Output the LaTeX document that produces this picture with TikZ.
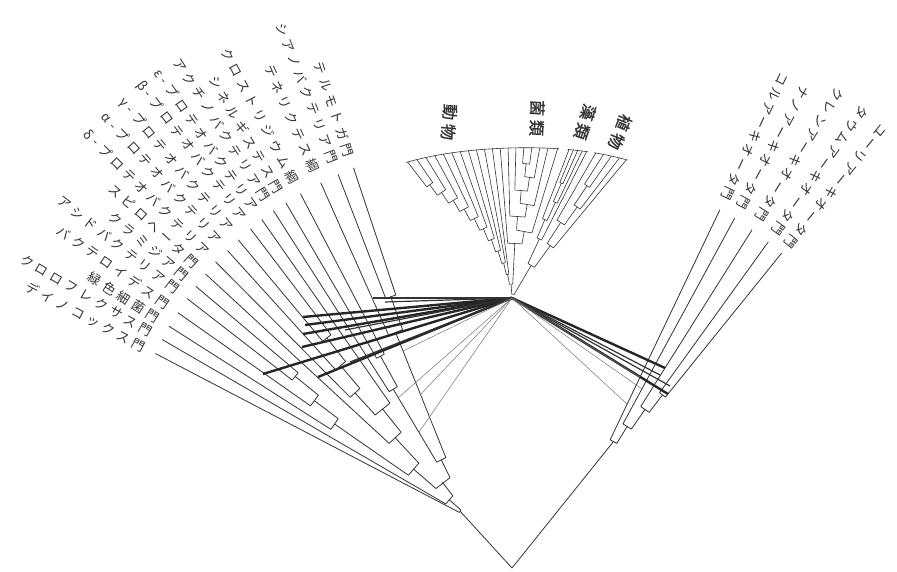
\documentclass[tikz,border=0pt]{standalone}
\usepackage{fontspec}
\newfontfamily\jp[LetterSpace=32]{Noto Sans CJK JP}
\newfontfamily\jpa[LetterSpace=22]{Noto Sans CJK JP}
\newfontfamily\jpb[LetterSpace=25,FakeBold=1.5]{Noto Sans CJK JP}
\newcommand\cla[5]{\draw (#1:#3) -- (#2:#3) (#1:#3) -- (#1:#4) (#2:#3) -- (#2:#5);}
\begin{document}
\begin{tikzpicture}[x=1pt,y=1pt,
  lab/.style={font=\jp\fontsize{13}{13}\selectfont, text=black!80, inner sep=0pt},
  alab/.style={font=\jpa\fontsize{13}{13}\selectfont, text=black!80, inner sep=0pt},
  elab/.style={font=\jpb\fontsize{16}{16}\selectfont, text=black!80, inner sep=0pt},
  lgtA/.style={draw=black!85, line width=2.4pt},
  lgtB/.style={draw=black!80, line width=1.2pt},
  lgtC/.style={draw=black!55, line width=0.5pt}]
\useasboundingbox (0,0) rectangle (897,572);
\coordinate (root) at (512,4);
\coordinate (C) at (470,54);
\coordinate (Ac) at (580,69);
\coordinate (E) at (512,274);

% bacteria
\begin{scope}[shift={(C)}, color=black!80, line width=0.8pt]
\cla{152.4}{138.8}{12}{355}{28}
\cla{149.9}{127.7}{28}{356}{45}
\cla{139.1}{116.3}{45}{75}{65}
\cla{145.25}{133.0}{75}{165}{110}
\cla{147.5}{143.0}{165}{357}{195}
\cla{144.9}{141.0}{195}{357}{225}
\cla{142.2}{139.8}{225}{358}{359}
\cla{137.3}{128.75}{110}{360}{140}
\cla{132.6}{124.9}{140}{170}{364}
\cla{134.8}{130.35}{170}{361}{200}
\cla{132.2}{128.5}{200}{361}{230}
\cla{129.8}{127.2}{230}{362}{363}
\cla{120.8}{111.85}{65}{150}{200}
\cla{122.6}{118.95}{150}{365}{185}
\cla{120.3}{117.6}{185}{365}{366}
\cla{114.0}{109.7}{200}{367}{235}
\cla{111.0}{108.4}{235}{368}{369}
\coordinate (b0) at (145.6:12);
\foreach \a/\r/\t [count=\i] in {
 152.4/367/デイノコックス門, 149.9/368/クロロフレクサス門, 147.5/369/緑色細菌門,
 144.9/369/バクテロイデス門, 142.2/370/アシドバクテリア門, 139.8/371/クラミジア門,
 137.3/372/スピロヘータ門, 134.8/373/δ-プロテオバクテリア, 132.2/373/α-プロテオバクテリア,
 129.8/374/γ-プロテオバクテリア, 127.2/375/β-プロテオバクテリア, 124.9/376/ε-プロテオバクテリア,
 122.6/377/アクチノバクテリア門, 120.3/377/シネルギステス門, 117.6/378/クロストリジウム綱,
 114.0/379/テネリクテス綱, 111.0/380/シアノバクテリア門, 108.4/381/テルモトガ門}
 \node[lab, rotate=\a-180, anchor=east] (bl\i) at (\a:\r) {\t};
\end{scope}

% archaea
\begin{scope}[shift={(Ac)}, color=black!80, line width=0.8pt]
\cla{64.5}{58.35}{70}{325}{90}
\cla{61.5}{55.2}{90}{324}{114}
\cla{57.8}{52.65}{114}{323}{136}
\cla{54.2}{51.1}{136}{322}{321}
\coordinate (a0) at (61.4:70);
\foreach \a/\r/\t [count=\i] in {
 64.5/336/コルアーキオータ門, 61.5/335/ナノアーキオータ門, 57.8/334/クレンアーキオータ門,
 54.2/332/タウムアーキオータ門, 51.1/329/ユーリアーキオータ門}
 \node[alab, rotate=\a-180, anchor=east] (al\i) at (\a:\r) {\t};
\end{scope}

\draw[color=black!80, line width=0.8pt] (root) -- (b0) (root) -- (a0);

% eukaryotes
\begin{scope}[shift={(E)}, color=black!80, line width=0.6pt]
\cla{127.5}{124.5}{140}{171.4}{168}
\cla{121.5}{126.0}{127}{164.8}{140}
\cla{118.5}{123.75}{114}{161.9}{127}
\cla{115.5}{121.1}{101}{159.4}{114}
\cla{112.5}{118.3}{88}{157.1}{101}
\cla{109.5}{115.4}{75}{155.2}{88}
\cla{106.5}{112.45}{62}{153.6}{75}
\cla{103.5}{109.5}{49}{152.2}{62}
\cla{100.5}{106.5}{36}{151.2}{49}
\cla{97.5}{103.5}{24}{150.5}{36}
\cla{85.5}{82.5}{135}{150.7}{151.5}
\cla{79.5}{84}{122}{152.7}{135}
\cla{88.5}{81.75}{108}{150.2}{122}
\cla{76.5}{85.1}{95}{154.1}{108}
\cla{91.5}{80.8}{82}{150.0}{95}
\cla{73}{86.15}{68}{156.1}{82}
\cla{94.5}{79.6}{55}{150.1}{68}
\cla{100.5}{87.05}{14}{24}{55}
\cla{67.5}{66}{125}{160.2}{161.5}
\cla{64.5}{66.75}{105}{162.9}{125}
\cla{69}{65.6}{85}{159}{105}
\cla{67.3}{63}{65}{85}{164.3}
\cla{57.5}{55}{135}{170.2}{173.3}
\cla{56.25}{52.5}{112}{135}{176.5}
\cla{60}{54.4}{90}{167.4}{112}
\cla{57.2}{50.4}{65}{90}{179.4}
\cla{65.15}{53.8}{38}{65}{65}
\cla{93.8}{59.5}{4}{14}{38}
\draw plot[domain=72.5:128, samples=50] (\x:{150+0.017*(\x-92)^2});
\draw plot[domain=62.5:69.5, samples=10] (\x:{150+0.017*(\x-92)^2});
\draw plot[domain=50:60.5, samples=12] (\x:{150+0.017*(\x-92)^2});
\end{scope}
\node[elab, rotate=-95] (e1) at (449,450) {動物};
\node[elab, rotate=-92] (e2) at (537,454) {菌類};
\node[elab, rotate=-108] (e3) at (585,450) {藻類};
\node[elab, rotate=-112] (e4) at (620,440) {植物};

% gene transfer lines
\foreach \x/\y in {303/255, 305/247, 303/238, 302/225, 263/198, 318/195, 665/204, 668/178}
  \draw[lgtA] (E) -- (\x,\y);
\foreach \x/\y in {373/274, 385/270, 345/242, 350/210, 660/197, 670/186}
  \draw[lgtB] (E) -- (\x,\y);
\foreach \x/\y in {403/221, 420/177, 419/140, 398/174, 627/168, 640/195, 642/183}
  \draw[lgtC] (E) -- (\x,\y);
\end{tikzpicture}
\end{document}
